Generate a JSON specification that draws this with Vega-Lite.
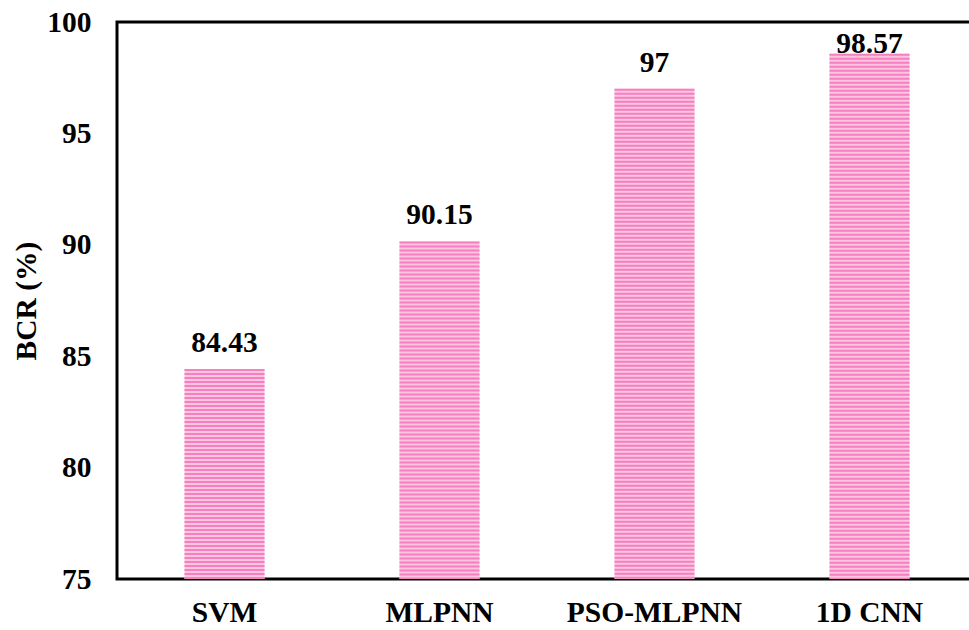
{
  "$schema": "https://vega.github.io/schema/vega-lite/v6.json",
  "autosize": "none",
  "padding": {"left": 117, "top": 22, "right": 0, "bottom": 51},
  "width": 860,
  "height": 557,
  "background": "#ffffff",
  "data": {
    "values": [
      {"model": "SVM", "bcr": 84.43, "label": "84.43"},
      {"model": "MLPNN", "bcr": 90.15, "label": "90.15"},
      {"model": "PSO-MLPNN", "bcr": 97, "label": "97"},
      {"model": "1D CNN", "bcr": 98.57, "label": "98.57"}
    ]
  },
  "encoding": {
    "x": {
      "field": "model",
      "type": "nominal",
      "sort": null,
      "scale": {"paddingInner": 0.63, "paddingOuter": 0.315},
      "axis": {
        "title": null,
        "domain": false,
        "ticks": false,
        "labelAngle": 0,
        "labelPadding": 19,
        "labelFont": "Liberation Serif",
        "labelFontSize": 29.5,
        "labelFontWeight": "bold",
        "labelColor": "#000000"
      }
    }
  },
  "layer": [
    {
      "mark": {"type": "bar", "width": 80, "fill": "#fcc6e3", "stroke": null},
      "encoding": {
        "y": {
          "field": "bcr",
          "type": "quantitative",
          "scale": {"domain": [75, 100], "nice": false, "zero": false},
          "axis": {
            "title": "BCR (%)",
            "values": [75, 80, 85, 90, 95, 100],
            "grid": false,
            "domain": false,
            "ticks": false,
            "labelPadding": 26,
            "labelFont": "Liberation Serif",
            "labelFontSize": 29.5,
            "labelFontWeight": "bold",
            "labelColor": "#000000",
            "titleFont": "Liberation Serif",
            "titleFontSize": 29.5,
            "titleFontWeight": "bold",
            "titleColor": "#000000",
            "titleX": -76
          }
        },
        "y2": {"datum": 75}
      }
    },
    {
      "mark": {"type": "rule", "strokeWidth": 80, "strokeDash": [2, 2], "strokeCap": "butt", "color": "#f57fbf"},
      "encoding": {
        "y": {"field": "bcr", "type": "quantitative"},
        "y2": {"datum": 75}
      }
    },
    {
      "transform": [{"calculate": "min(datum.bcr, 97.85)", "as": "labelPos"}],
      "mark": {
        "type": "text",
        "dy": -17,
        "baseline": "alphabetic",
        "font": "Liberation Serif",
        "fontSize": 29.5,
        "fontWeight": "bold",
        "color": "#000000"
      },
      "encoding": {
        "y": {"field": "labelPos", "type": "quantitative"},
        "text": {"field": "label"}
      }
    }
  ],
  "config": {
    "view": {"stroke": "#000000", "strokeWidth": 3}
  }
}
